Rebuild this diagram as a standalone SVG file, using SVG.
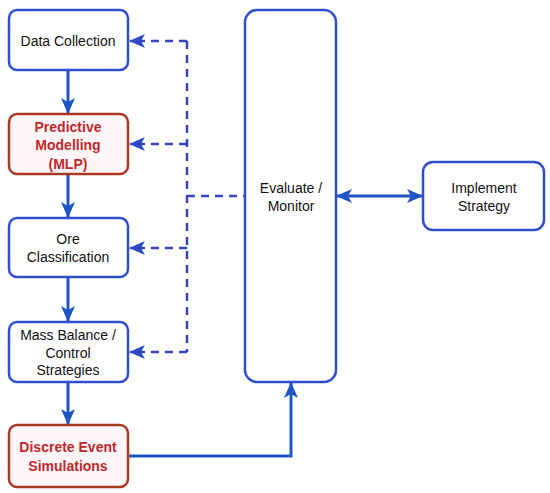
<svg xmlns="http://www.w3.org/2000/svg" width="550" height="493" viewBox="0 0 550 493">
<style>
.box{fill:#fff;stroke:#2F4FCF;stroke-width:2.5}
.rbox{fill:#FFF6F9;stroke:#A83A24;stroke-width:2.5}
.t{font-family:"Liberation Sans",Arial,sans-serif;font-size:14px;fill:#111;text-anchor:middle}
.rt{font-family:"Liberation Sans",Arial,sans-serif;font-size:14px;font-weight:bold;fill:#C0282A;text-anchor:middle}
.solid{fill:none;stroke:#1E56C8;stroke-width:3}
.dash{fill:none;stroke:#3646C0;stroke-width:2.5;stroke-dasharray:8 6}
</style>
<defs>
<marker id="ah" markerUnits="userSpaceOnUse" markerWidth="16" markerHeight="16" viewBox="0 0 16 16" refX="15" refY="8" orient="auto-start-reverse">
<path d="M0,1 L16,8 L0,15 L4,8 z" fill="#1E56C8"/>
</marker>
<marker id="ahd" markerUnits="userSpaceOnUse" markerWidth="16" markerHeight="16" viewBox="0 0 16 16" refX="15" refY="8" orient="auto">
<path d="M0,1 L16,8 L0,15 L4,8 z" fill="#2E4AC8"/>
</marker>
</defs>
<g id="connectors">
<line class="solid" x1="68" y1="70" x2="68" y2="113" marker-end="url(#ah)"/>
<line class="solid" x1="68" y1="174" x2="68" y2="217" marker-end="url(#ah)"/>
<line class="solid" x1="68" y1="277" x2="68" y2="321" marker-end="url(#ah)"/>
<line class="solid" x1="68" y1="382" x2="68" y2="424" marker-end="url(#ah)"/>
<polyline class="solid" points="128,456 291,456 291,383" marker-end="url(#ah)"/>
<line class="solid" x1="337" y1="196" x2="422" y2="196" marker-start="url(#ah)" marker-end="url(#ah)"/>
<line class="dash" x1="187" y1="41" x2="187" y2="352"/>
<line class="dash" x1="187" y1="196" x2="245" y2="196"/>
<line class="dash" x1="187" y1="41" x2="130" y2="41" marker-end="url(#ahd)"/>
<line class="dash" x1="187" y1="144" x2="130" y2="144" marker-end="url(#ahd)"/>
<line class="dash" x1="187" y1="248" x2="130" y2="248" marker-end="url(#ahd)"/>
<line class="dash" x1="187" y1="352" x2="130" y2="352" marker-end="url(#ahd)"/>
</g>
<g id="data-collection">
<rect class="box" x="9" y="10" width="119" height="60" rx="8"/>
<text class="t" x="68" y="46">Data Collection</text>
</g>
<g id="predictive-modelling">
<rect class="rbox" x="9" y="114" width="119" height="60" rx="8"/>
<text class="rt" x="68" y="132">Predictive</text>
<text class="rt" x="68" y="150">Modelling</text>
<text class="rt" x="68" y="169">(MLP)</text>
</g>
<g id="ore-classification">
<rect class="box" x="9" y="218" width="119" height="59" rx="8"/>
<text class="t" x="68" y="244">Ore</text>
<text class="t" x="68" y="262">Classification</text>
</g>
<g id="mass-balance">
<rect class="box" x="9" y="322" width="119" height="60" rx="8"/>
<text class="t" x="68" y="340">Mass Balance /</text>
<text class="t" x="68" y="358">Control</text>
<text class="t" x="68" y="375">Strategies</text>
</g>
<g id="discrete-event">
<rect class="rbox" x="9" y="425" width="119" height="62" rx="8"/>
<text class="rt" x="68" y="452">Discrete Event</text>
<text class="rt" x="68" y="471">Simulations</text>
</g>
<g id="evaluate-monitor">
<rect class="box" x="245" y="10" width="91" height="372" rx="12"/>
<text class="t" x="291" y="193">Evaluate /</text>
<text class="t" x="291" y="211">Monitor</text>
</g>
<g id="implement-strategy">
<rect class="box" x="423" y="162" width="121" height="68" rx="10"/>
<text class="t" x="484" y="193">Implement</text>
<text class="t" x="484" y="211">Strategy</text>
</g>
</svg>
